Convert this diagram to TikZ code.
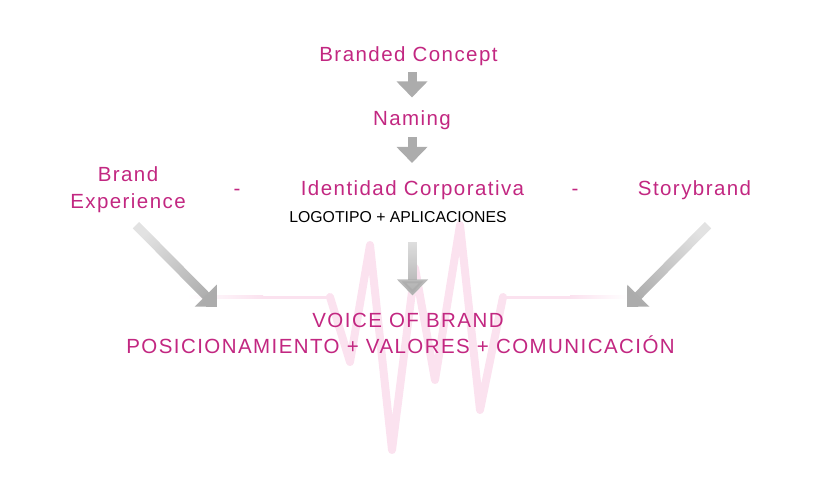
\documentclass[tikz,border=0pt]{standalone}
\usepackage{fontspec}
\setmainfont{Liberation Sans}
\usetikzlibrary{arrows.meta,fadings,positioning}
\definecolor{brandpink}{RGB}{194,39,129}
\definecolor{wavepink}{RGB}{251,226,239}
\definecolor{arrowgray}{RGB}{172,172,172}
\tikzfading[name=tailfade, top color=transparent!65, bottom color=transparent!0]

\begin{document}
\begin{tikzpicture}[x=1pt,y={(0,-1pt)},
    brandtxt/.style={text=brandpink,inner sep=0pt,anchor=base,align=center,
      font=\fontsize{20.5}{26.6}\selectfont\addfontfeatures{LetterSpace=7}},
    subtxt/.style={inner sep=0pt,anchor=base,font=\fontsize{15.8}{18}\selectfont},
    flow/.style={line width=9pt,draw=arrowgray,-{Triangle[width=30pt,length=16pt]}},
    fadeflow/.style={flow,path fading=tailfade,fading angle=#1},
    wave/.style={draw=wavepink,line width=8pt,line join=round,line cap=round}]
\useasboundingbox (0,0) rectangle (818,493);

% pulse line behind the voice
\shade[left color=white,right color=wavepink] (187,295.5) rectangle (263,298.5);
\draw[draw=wavepink,line width=3pt] (262,297) -- (331,297);
\draw[wave] (330,297) -- (350,362) -- (370,245) -- (392,450) -- (415,268) -- (435,380)
  -- (460,225) -- (480,410) -- (503,297);
\draw[draw=wavepink,line width=3pt] (502,297) -- (571,297);
\shade[left color=wavepink,right color=white] (570,295.5) rectangle (627,298.5);

\node[brandtxt] (concept) at (408.5,61.7) {Branded Concept};
\node[brandtxt] (naming) at (412,125) {Naming};
\node[brandtxt] (experience) at (128,208.3) {Brand\\Experience};
\node[brandtxt] (dashl) at (237,195) {-};
\node[brandtxt] (identidad) at (412.5,195) {Identidad Corporativa};
\node[brandtxt] (dashr) at (575,195) {-};
\node[brandtxt] (storybrand) at (694.5,195) {Storybrand};
\node[subtxt] (logotipo) at (398,222.3) {LOGOTIPO + APLICACIONES};
\node[brandtxt] (voice) at (408,327.3) {VOICE OF BRAND};
\node[brandtxt] (posicion) at (400.5,353.3) {POSICIONAMIENTO + VALORES + COMUNICACIÓN};

\coordinate (exptail) at ([xshift=8pt,yshift=-12.4pt]experience.south);
\coordinate (storytail) at ([xshift=13.5pt,yshift=-25.7pt]storybrand.south);
\coordinate (voiceleft) at (217,307);
\coordinate (voiceright) at (627,307);

\draw[flow,shorten <=6pt,shorten >=12.5pt] (concept.south -| naming) -- (naming.north);
\draw[flow,shorten <=8pt,shorten >=17pt] (naming.south) -- (naming.south |- identidad.north);
\draw[flow,draw=white,shorten <=19.5pt,shorten >=17.3pt] (logotipo.south -| identidad) -- (identidad |- voice.north);
\draw[flow,path fading=tailfade,fading transform={xscale=6,yscale=0.6},shorten <=19.5pt,shorten >=17.3pt]
  (logotipo.south -| identidad) -- (identidad |- voice.north);
\draw[fadeflow=45] (exptail) -- (voiceleft);
\draw[fadeflow=-45] (storytail) -- (voiceright);
\end{tikzpicture}
\end{document}
